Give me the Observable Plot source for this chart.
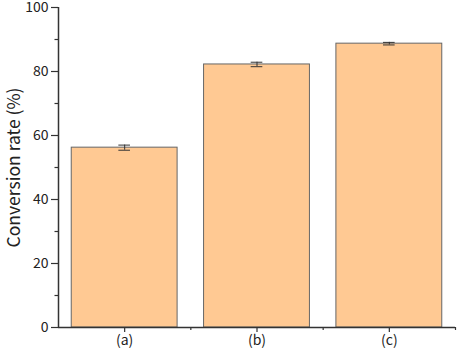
<!DOCTYPE html>
<html>
<head>
<meta charset="utf-8">
<script src="https://cdn.jsdelivr.net/npm/d3@7"></script>
<script src="https://cdn.jsdelivr.net/npm/@observablehq/plot@0.6"></script>
<style>
  html, body { margin: 0; padding: 0; background: #fff; }
  #chart svg { display: block; }
</style>
</head>
<body>
<div id="chart"></div>
<script>
const categories = ["(a)", "(b)", "(c)"];
const values = [56.2, 82.2, 88.7];
const errors = [0.8, 0.7, 0.4];
const yTicks = [0, 20, 40, 60, 80, 100];
const yMinorTicks = [10, 30, 50, 70, 90];

const data = categories.map((c, i) => ({cat: c, i, v: values[i], e: errors[i]}));
const centers = data.map(d => d.i + 0.5);
const boundaries = [1, 2, 3];

const font = "'Noto Sans CJK JP', 'Noto Sans', sans-serif";
const axisColor = "#333";

const plot = Plot.plot({
  width: 457,
  height: 350,
  marginLeft: 58,
  marginRight: 2,
  marginTop: 7,
  marginBottom: 23,
  style: {fontFamily: font, fontSize: "14px", color: "#222", background: "#fff", overflow: "visible"},
  x: {type: "linear", domain: [0, 3]},
  y: {domain: [0, 100]},
  marks: [
    Plot.rectY(data, {
      x1: d => d.i + 0.1, x2: d => d.i + 0.9, y1: 0, y2: "v",
      fill: "#FFC993", stroke: "#666", strokeWidth: 1
    }),
    // error bars
    Plot.ruleX(data, {x: d => d.i + 0.5, y1: d => d.v - d.e, y2: d => d.v + d.e, stroke: "#333", strokeWidth: 1}),
    Plot.ruleY(data, {y: d => d.v + d.e, x1: d => d.i + 0.456, x2: d => d.i + 0.544, stroke: "#333", strokeWidth: 1}),
    Plot.ruleY(data, {y: d => d.v - d.e, x1: d => d.i + 0.456, x2: d => d.i + 0.544, stroke: "#333", strokeWidth: 1}),
    // y axis
    Plot.axisY({ticks: yTicks, tickSize: 7, tickPadding: 3, tickFormat: d => String(d), label: null,
      stroke: axisColor, strokeWidth: 1.2, fontSize: 14}),
    Plot.axisY({ticks: yMinorTicks, tickSize: 3.5, tickFormat: () => "", label: null,
      stroke: axisColor, strokeWidth: 1.2}),
    Plot.ruleX([0], {stroke: axisColor, strokeWidth: 1.5}),
    Plot.text(["Conversion rate (%)"], {
      frameAnchor: "left", dx: -44, rotate: -90, textAnchor: "middle", fontSize: 17.5, fill: "#222"
    }),
    // x axis
    Plot.axisX({ticks: centers, tickSize: 5, tickPadding: 3, tickFormat: d => categories[Math.floor(d)],
      label: null, stroke: axisColor, strokeWidth: 1.2, fontSize: 14}),
    Plot.axisX({ticks: boundaries, tickSize: 3, tickFormat: () => "", label: null, stroke: axisColor, strokeWidth: 1.2}),
    Plot.ruleY([0], {stroke: axisColor, strokeWidth: 1.5})
  ]
});

document.getElementById("chart").appendChild(plot);
</script>
</body>
</html>
